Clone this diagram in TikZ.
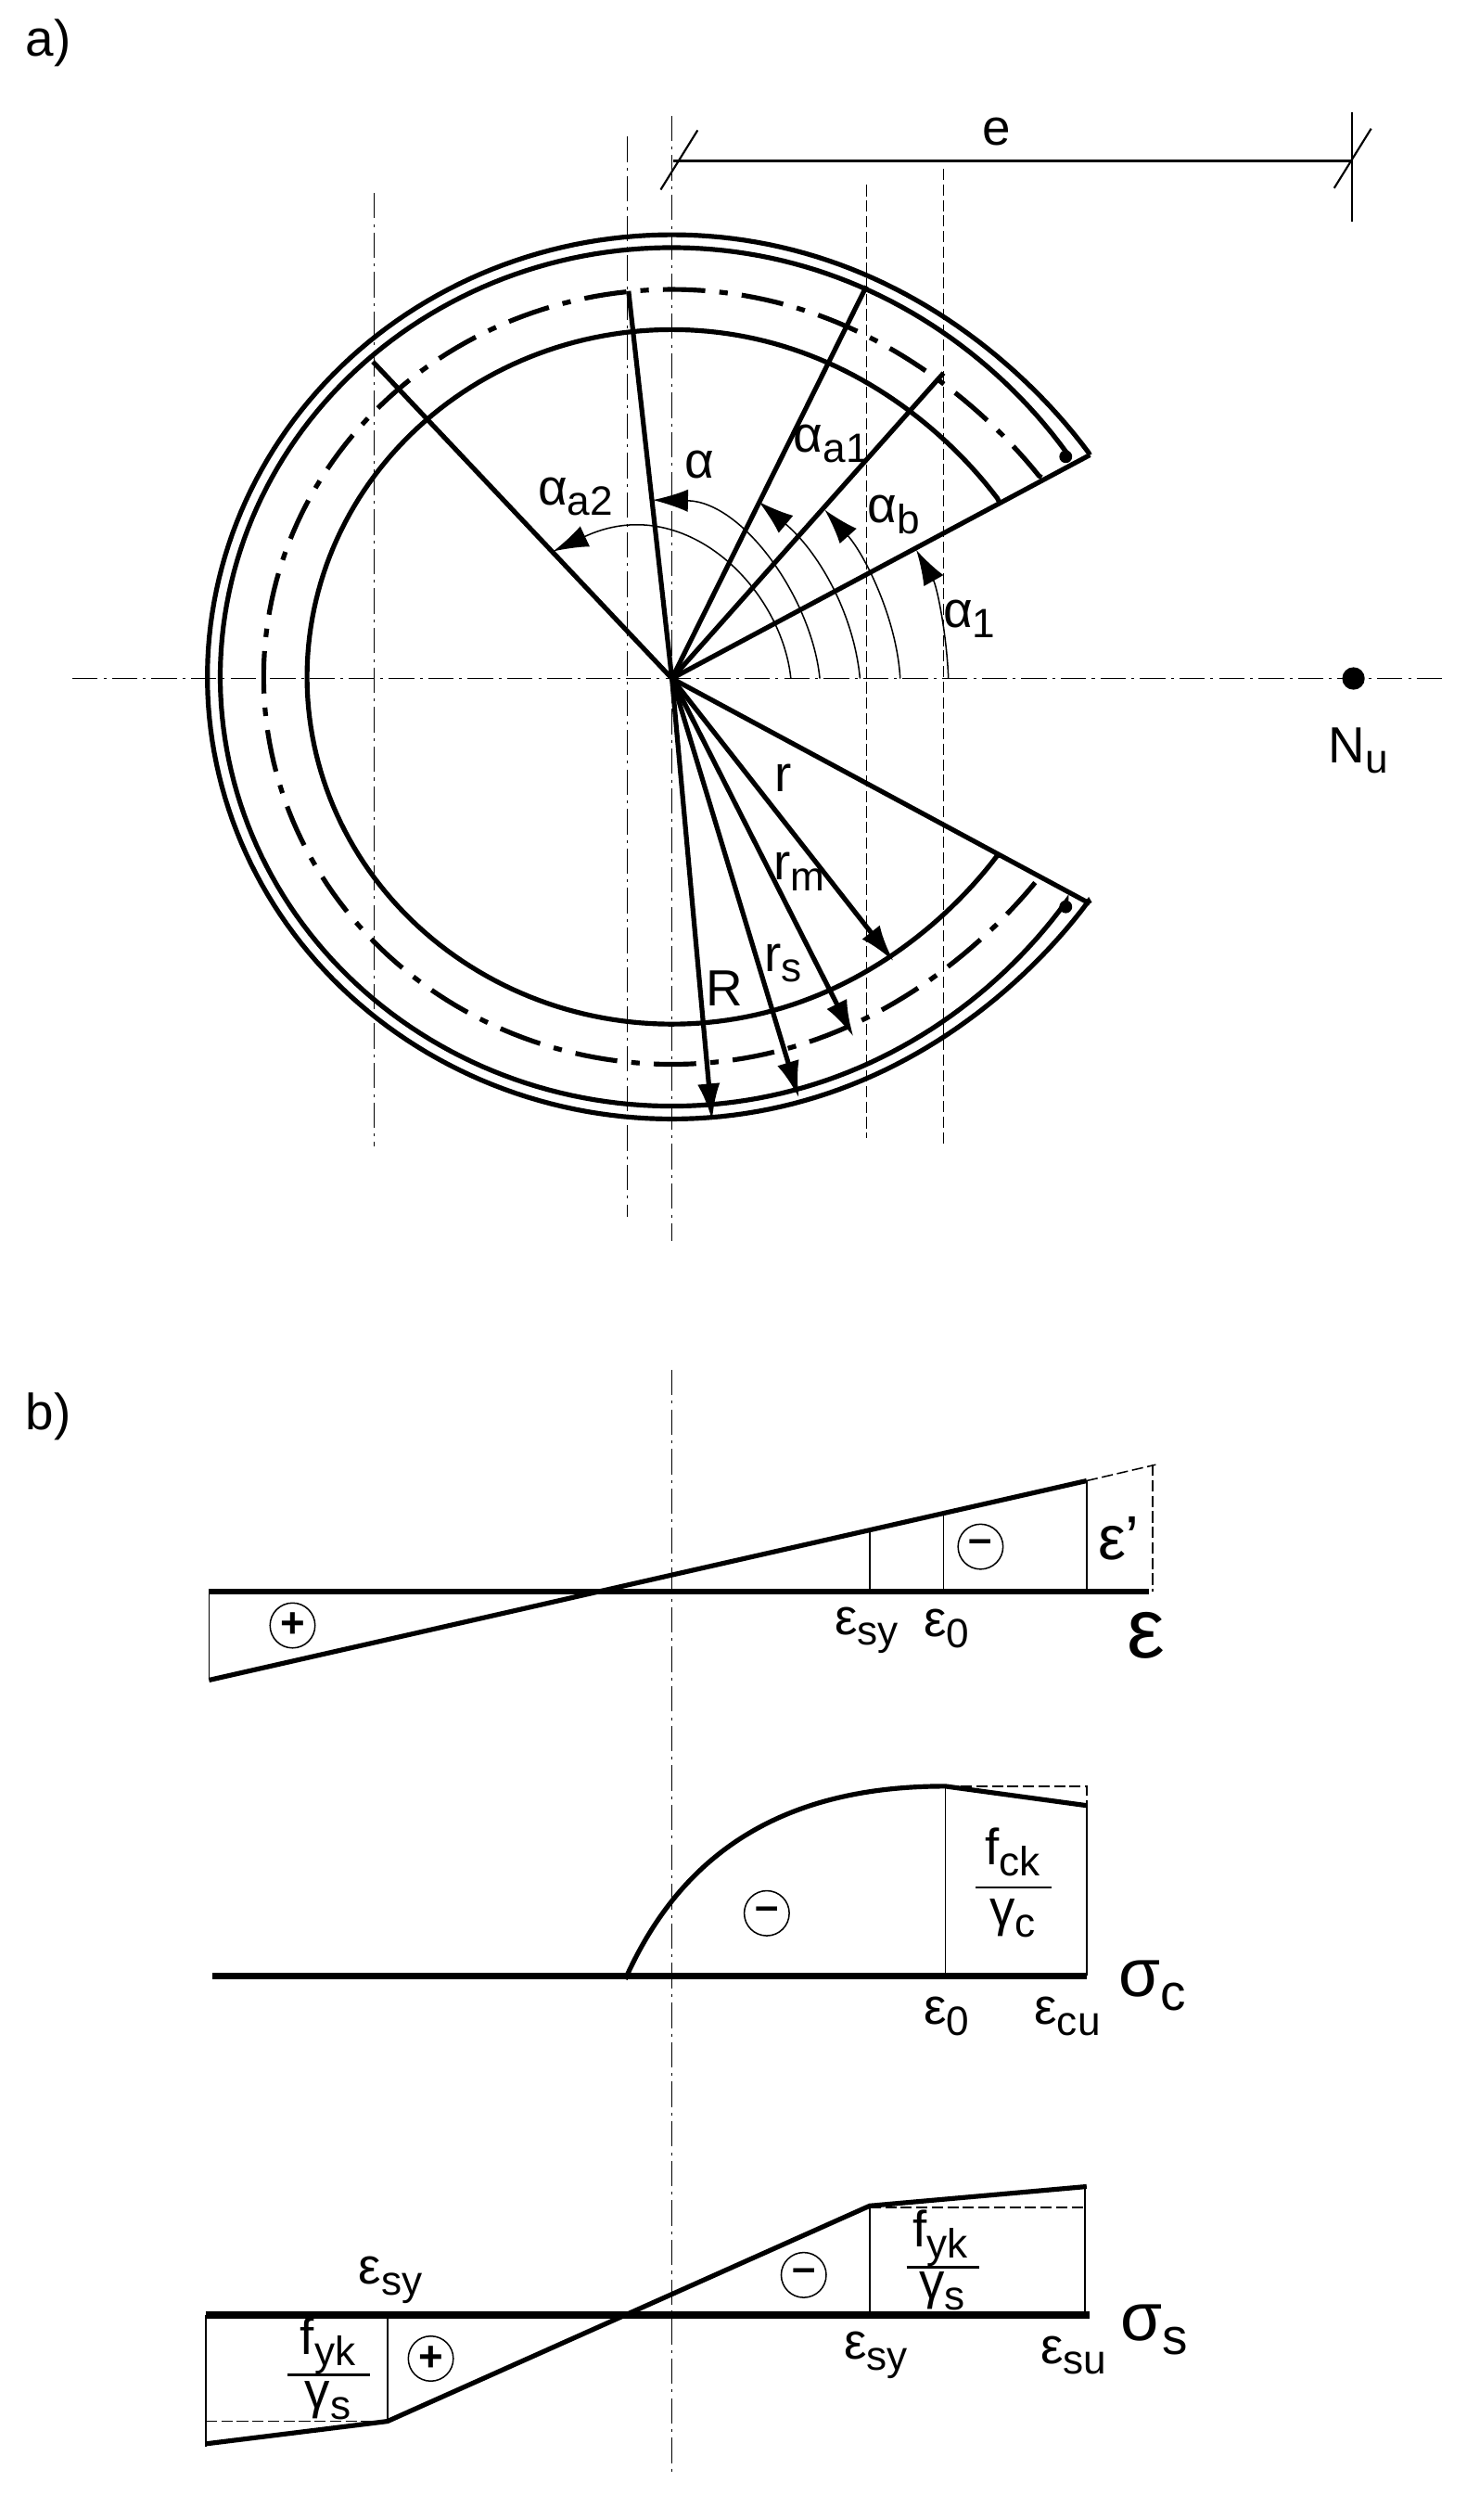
\documentclass[tikz,border=0pt]{standalone}
\usepackage{fontspec}
\setmainfont{Liberation Sans}
\usetikzlibrary{arrows.meta}

\newcommand{\lowtext}[3][14.5]{#2\raisebox{-0.4ex}{\fontsize{#1}{#1}\selectfont #3}}

\tikzset{
  thinline/.style={line width=0.5pt},
  heavy/.style={line width=1.7pt},
  baseline axis/.style={line width=2.2pt},
  dashdotline/.style={line width=0.35pt, dash pattern=on 9pt off 2pt on 1pt off 2pt},
  dashline/.style={line width=0.5pt, dash pattern=on 4pt off 1.5pt},
  radial/.style={heavy, -{Latex[length=4.6mm,width=2.8mm]}},
  anglearc/.style={thinline, -{Latex[length=4.4mm,width=2.8mm]}},
  label/.style={font=\fontsize{18}{20}\selectfont, inner sep=0pt},
  signmark/.style={draw, circle, thinline, minimum size=0.56cm, inner sep=0pt, font=\fontsize{15}{15}\selectfont\bfseries},
  declare function={ringgrow(\t,\k)=1+\k*pow(max(cos(\t),0),6);},
}

\begin{document}
\begin{tikzpicture}[x=0.02cm, y=-0.02cm]
  \useasboundingbox (0,0) rectangle (912.6,1567.4);

  % Part a: section
  \coordinate (O) at (418,422);
  \coordinate (tipT) at (678,283);
  \coordinate (tipB) at (678,562);

  % Axes
  \coordinate (axisW) at (45,422);
  \coordinate (axisE) at (897,422);
  \draw[dashdotline] (axisW) -- (axisE);
  \draw[dashdotline, line width=0.5pt] (418,72) -- (418,772);
  \draw[dashdotline] (390,85) -- (390,757);
  \draw[dashdotline] (233,120) -- (233,713);
  \draw[dashline] (539,115) -- (539,708);
  \draw[dashline] (587,105) -- (587,713);

  % Ring
  \draw[heavy] (tipT) -- plot[domain=29.5:330.5, samples=200] ({418+289*ringgrow(\x,0.07)*cos(\x)},{421-275*ringgrow(\x,0.07)*sin(\x)}) -- (tipB);
  \coordinate (dotT) at (663,284);
  \coordinate (dotB) at (663,564);
  \draw[heavy] (dotT) -- plot[domain=31:329, samples=200] ({418+281*ringgrow(\x,0.045)*cos(\x)},{421-267*ringgrow(\x,0.045)*sin(\x)}) -- (dotB);
  \draw[heavy, dash pattern=on 15pt off 5pt on 3pt off 5pt] (648,297) -- plot[domain=30:330, samples=200] ({418+254*ringgrow(\x,0.09)*cos(\x)},{421-241*ringgrow(\x,0.09)*sin(\x)}) -- (646,546);
  \draw[heavy] (622,313) -- plot[domain=30:330, samples=200] ({418+227*ringgrow(\x,0.07)*cos(\x)},{421-216*ringgrow(\x,0.07)*sin(\x)}) -- (622,532);
  \fill (dotT) circle (4);
  \fill (dotB) circle (4);

  % Radial lines
  \draw[heavy] (O) -- (tipT);
  \draw[heavy] (O) -- (tipB);
  \draw[heavy] (O) -- (232,225);
  \draw[heavy] (O) -- (391,181);
  \draw[heavy] (O) -- (539,178);
  \draw[heavy] (O) -- (587,232);
  \draw[radial] (O) -- (556,598);
  \draw[radial] (O) -- (531,645);
  \draw[radial] (O) -- (497,683);
  \draw[radial] (O) -- (443,697);

  % Angle arcs
  \draw[anglearc] (590,422) .. controls (589,395) and (583,365) .. (570,342);
  \draw[anglearc] (560,422) .. controls (558,385) and (538,345) .. (513,317);
  \draw[anglearc] (535,422) .. controls (531,380) and (508,342) .. (472,312);
  \draw[anglearc] (510,422) .. controls (505,372) and (462,312) .. (406,311);
  \draw[anglearc] (492,422) .. controls (486,365) and (425,305) .. (344,343);

  % Dimension e
  \coordinate (dimL) at (419,100);
  \coordinate (dimR) at (841,100);
  \draw[line width=0.9pt] (dimL) -- (dimR);
  \draw[thinline] (841,70) -- (841,138);
  \draw[line width=0.7pt] (411,118) -- (434,81);
  \draw[line width=0.7pt] (830,117) -- (853,80);
  \fill (842,422) circle (7);

  % Labels of part a
  \node[label] (parta) at (30,27) {a)};
  \node[label] (ecc) at (620,82) {e};
  \node[label] (load) at (845,467) {\lowtext{N}{u}};
  \node[label] (a2) at (358,309) {\lowtext{α}{a2}};
  \node[label] (a0) at (435,289) {α};
  \node[label] (a1) at (517,276) {\lowtext{α}{a1}};
  \node[label] (ab) at (556,320) {\lowtext{α}{b}};
  \node[label] (a3) at (603,385) {\lowtext{α}{1}};
  \node[label] (rin) at (487,484) {r};
  \node[label] (rm) at (497,542) {\lowtext{r}{m}};
  \node[label] (rs) at (487,599) {\lowtext{r}{s}};
  \node[label] (Rout) at (451,615) {R};

  % Part b
  \node[label] (partb) at (30,881) {b)};
  \draw[dashdotline] (418,852) -- (418,1540);

  % Strain
  \draw[baseline axis] (130,990) -- (715,990);
  \draw[heavy] (130,1045) -- (676,921);
  \draw[dashline] (676,921) -- (719,911);
  \draw[dashline] (717,911) -- (717,990);
  \draw[thinline] (130,990) -- (130,1045);
  \draw[thinline] (541,950) -- (541,990);
  \draw[thinline] (587,940) -- (587,990);
  \draw[thinline] (676,921) -- (676,990);
  \node[signmark] (plusA) at (182,1011) {+};
  \node[signmark] (minusA) at (610,962) {–};
  \node[label] (esyA) at (539,1014) {\lowtext{ε}{sy}};
  \node[label] (ezeroA) at (589,1013) {\lowtext{ε}{0}};
  \node[label, font=\fontsize{22}{22}\selectfont] (eprime) at (696,957) {ε'};
  \node[label, font=\fontsize{30}{30}\selectfont] (eaxis) at (713,1017) {ε};

  % Concrete stress
  \draw[baseline axis] (132,1229) -- (676,1229);
  \draw[heavy] (389,1231) .. controls (425,1150) and (490,1111) .. (588,1111) -- (676,1123);
  \draw[dashline] (588,1111) -- (676,1111) -- (676,1123);
  \draw[thinline] (588,1111) -- (588,1229);
  \draw[thinline] (676,1123) -- (676,1229);
  \node[signmark] (minusB) at (477,1190) {–};
  \node[label] (fckNum) at (630,1152) {\lowtext{f}{ck}};
  \coordinate (fckL) at (607,1174);
  \coordinate (fckR) at (654,1174);
  \draw[line width=0.9pt] (fckL) -- (fckR);
  \node[label] (fckDen) at (630,1193) {\lowtext{γ}{c}};
  \node[label] (ezeroB) at (589,1254) {\lowtext{ε}{0}};
  \node[label] (ecu) at (664,1254) {\lowtext{ε}{cu}};
  \node[label, font=\fontsize{24}{24}\selectfont] (sigc) at (717,1235) {\lowtext[18]{σ}{c}};

  % Steel stress
  \draw[baseline axis, line width=2.6pt] (128,1440) -- (678,1440);
  \draw[heavy] (128,1520) -- (241,1506) -- (541,1372) -- (676,1360);
  \draw[dashline] (128,1506) -- (241,1506);
  \draw[dashline] (541,1373) -- (675,1373);
  \draw[thinline] (128,1440) -- (128,1522);
  \draw[thinline] (241,1440) -- (241,1506);
  \draw[thinline] (541,1372) -- (541,1440);
  \draw[thinline] (675,1360) -- (675,1440);
  \node[signmark] (plusC) at (268,1467) {+};
  \node[signmark] (minusC) at (500,1415) {–};
  \node[label] (fykLNum) at (204,1459) {\lowtext{f}{yk}};
  \coordinate (fykLa) at (179,1477);
  \coordinate (fykLb) at (230,1477);
  \draw[line width=0.9pt] (fykLa) -- (fykLb);
  \node[label] (fykLDen) at (204,1493) {\lowtext{γ}{s}};
  \node[label] (fykRNum) at (585,1392) {\lowtext{f}{yk}};
  \coordinate (fykRa) at (564,1410);
  \coordinate (fykRb) at (609,1410);
  \draw[line width=0.9pt] (fykRa) -- (fykRb);
  \node[label] (fykRDen) at (586,1425) {\lowtext{γ}{s}};
  \node[label] (esyL) at (243,1418) {\lowtext{ε}{sy}};
  \node[label] (esyR) at (545,1465) {\lowtext{ε}{sy}};
  \node[label] (esu) at (668,1465) {\lowtext{ε}{su}};
  \node[label, font=\fontsize{24}{24}\selectfont] (sigs) at (718,1449) {\lowtext[18]{σ}{s}};
\end{tikzpicture}
\end{document}
